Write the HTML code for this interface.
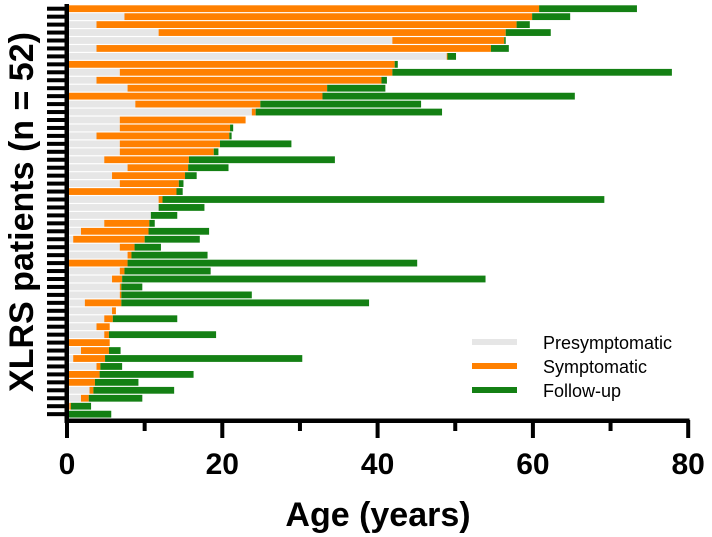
<!DOCTYPE html>
<html><head><meta charset="utf-8"><style>
html,body{margin:0;padding:0;background:#fff;}
svg{display:block;font-family:"Liberation Sans",Arial,sans-serif;}
</style></head><body>
<svg id="chart" width="712" height="537" viewBox="0 0 712 537">
<g id="bars"></g>
<g id="axes"></g>
<g id="legend">
  <line x1="472" y1="342" x2="517" y2="342" stroke="#e6e6e6" stroke-width="6"/>
  <text x="543" y="349" font-size="18">Presymptomatic</text>
  <line x1="472" y1="366" x2="517" y2="366" stroke="#ff8000" stroke-width="6"/>
  <text x="543" y="373" font-size="18">Symptomatic</text>
  <line x1="472" y1="390" x2="517" y2="390" stroke="#148014" stroke-width="6"/>
  <text x="543" y="397" font-size="18">Follow-up</text>
</g>
<text x="378" y="526" font-size="34" font-weight="bold" text-anchor="middle">Age (years)</text>
<text transform="translate(33,212) rotate(-90)" font-size="34" font-weight="bold" text-anchor="middle">XLRS patients (n = 52)</text>
</svg>
<script>
const presymEnd = [0,7.4,3.8,11.8,41.9,3.8,48.9,0,6.8,3.8,7.8,0,8.8,23.8,6.8,6.8,3.8,6.8,6.8,4.8,7.8,5.8,6.8,0,11.8,11.8,10.8,4.8,1.8,0.8,6.8,7.8,0,6.8,5.8,6.8,6.8,2.3,5.8,4.8,3.8,4.8,0,1.8,0.8,3.8,0,0,2.9,1.8,0.3,0];
const sympEnd = [60.8,59.9,57.9,56.5,56.3,54.6,49.0,42.2,41.9,40.5,33.5,32.9,24.9,24.3,23.0,21.0,20.9,19.7,18.9,15.7,15.6,15.2,14.4,14.1,12.3,11.8,10.8,10.6,10.5,10.0,8.7,8.3,7.8,7.4,7.1,7.0,7.0,7.0,6.3,5.9,5.5,5.4,5.5,5.4,4.9,4.3,4.2,3.6,3.4,2.8,0.5,0];
const followEnd = [73.4,64.8,59.6,62.3,56.5,56.9,50.1,42.6,77.9,41.2,41.0,65.4,45.6,48.3,23.0,21.4,21.2,28.9,19.5,34.5,20.8,16.7,15.0,14.9,69.2,17.7,14.2,11.3,18.3,17.1,12.1,18.1,45.1,18.5,53.9,9.7,23.8,38.9,6.3,14.2,5.5,19.2,5.5,6.9,30.3,7.1,16.3,9.2,13.8,9.7,3.1,5.7];
const xTicks = [0,10,20,30,40,50,60,70,80];
const xTickLabels = ["0","","20","","40","","60","","80"];

const NS="http://www.w3.org/2000/svg";
const X0=67, PXPERYR=7.765;
function xs(v){return X0+v*PXPERYR;}
function ys(i){return 8.7+i*7.95;}
const BH=6.8;
const bars=document.getElementById('bars');
const axes=document.getElementById('axes');
function rect(p,x,y,w,h,fill){const r=document.createElementNS(NS,'rect');r.setAttribute('x',x);r.setAttribute('y',y);r.setAttribute('width',Math.max(0,w));r.setAttribute('height',h);r.setAttribute('fill',fill);p.appendChild(r);return r;}
for(let i=0;i<presymEnd.length;i++){
  const y=ys(i)-BH/2;
  const g=document.createElementNS(NS,'g');
  
  
  bars.appendChild(g);
  const a=rect(g,xs(0),y,xs(presymEnd[i])-xs(0),BH,'#e6e6e6');
  
  
  const b=rect(g,xs(presymEnd[i]),y,xs(sympEnd[i])-xs(presymEnd[i]),BH,'#ff8000');
  
  
  const c=rect(g,xs(sympEnd[i]),y,xs(followEnd[i])-xs(sympEnd[i]),BH,'#148014');
  
  
  const t=rect(axes,47,ys(i)-2,19,4,'#000');
  
  
}
const ya=rect(axes,64.5,4,4.5,419,'#000');


const xa=rect(axes,64.5,418.5,625,4.5,'#000');


xTicks.forEach((v,k)=>{
  const tk=rect(axes,xs(v)-2,420,4,(k%2===0)?18:11,'#000');
  
  
  if(xTickLabels[k]){
    const tx=document.createElementNS(NS,'text');
    tx.setAttribute('x',xs(v));tx.setAttribute('y',474);
    tx.setAttribute('font-size','30');tx.setAttribute('font-weight','bold');
    tx.setAttribute('text-anchor','middle');
    
    
    tx.textContent=xTickLabels[k];
    axes.appendChild(tx);
  }
});
</script>
</body></html>
